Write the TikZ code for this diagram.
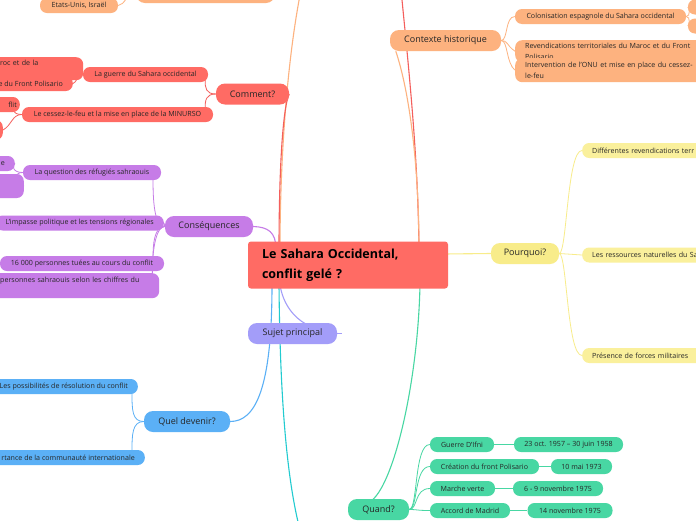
\documentclass[tikz,border=0pt]{standalone}
\usepackage{fontspec}
\setmainfont{Open Sans}
\usetikzlibrary{backgrounds,calc}
\definecolor{cred}{HTML}{FF6B64}
\definecolor{credl}{HTML}{F45F5C}
\definecolor{cor}{HTML}{FDB27F}
\definecolor{cpu}{HTML}{C67CE7}
\definecolor{cye}{HTML}{F8EC8A}
\definecolor{cyl}{HTML}{FAF09C}
\definecolor{cbl}{HTML}{5BB0F6}
\definecolor{cgr}{HTML}{48D7A3}
\definecolor{cla}{HTML}{A39DF9}
\definecolor{ccy}{HTML}{22CBD0}
\definecolor{ctext}{HTML}{262626}
\begin{document}
\begin{tikzpicture}[x=1pt,y=-1pt,
  mainbox/.style={rounded corners=9pt, minimum height=21pt, inner xsep=0pt, inner ysep=0pt, text=ctext, font=\fontsize{9}{11}\selectfont},
  subbox/.style={rounded corners=7pt, minimum height=15pt, inner xsep=0pt, inner ysep=0pt, text=ctext, font=\fontsize{7.1}{11}\selectfont},
  padbox/.style={subbox, inner xsep=10pt},
  mainline/.style={line width=1.1pt},
  subline/.style={line width=0.8pt}]
\useasboundingbox (0,0) rectangle (696,520);

% central
\node[fill=cred, rounded corners=3pt, minimum width=200pt, minimum height=47pt, text width=172pt, inner xsep=14pt, align=left, text=black, font=\bfseries\fontsize{12.5}{20}\selectfont] (c) at (348,265) {Le Sahara Occidental,\\conflit gelé ?};

% Contexte historique
\node[mainbox, fill=cor, minimum width=111pt] (ctx) at (445.5,40.5) {Contexte historique};
\node[subbox, fill=cor, minimum width=171pt] (col) at (600.5,16.5) {Colonisation espagnole du Sahara occidental};
\node[subbox, fill=cor, minimum width=80pt] (col1) at (728,7) {};
\node[subbox, fill=cor, minimum width=80pt] (col2) at (728,26) {};
\node[padbox, fill=cor, anchor=north west, text width=190pt, align=left, minimum height=22pt, inner ysep=2pt] (rev) at (515,40) {Revendications territoriales du Maroc et du Front\\Polisario};
\node[padbox, fill=cor, anchor=north west, text width=190pt, align=left, minimum height=24pt, inner ysep=2pt] (int) at (515,58) {Intervention de l’ONU et mise en place du cessez-\\le-feu};

% top-left orange
\node[subbox, fill=cor, minimum width=78pt] (eu) at (79,5.5) {Etats-Unis, Israël};
\node[mainbox, fill=cor, minimum width=139pt, minimum height=22pt] (tb) at (205.5,-8) {};

% Comment?
\node[mainbox, fill=cred, minimum width=73pt] (cm) at (252.5,94) {Comment?};
\node[subbox, fill=cred, minimum width=125pt] (gu) at (145.5,74.5) {La guerre du Sahara occidental};
\node[padbox, fill=cred, anchor=north west, text width=73pt, align=left, minimum height=23pt, inner ysep=2pt] (gc1) at (-10,57) {roc et de la\\\mbox{}};
\node[padbox, fill=cred, anchor=east] (gc2) at (73,83.5) {e du Front Polisario};
\node[subbox, fill=cred, minimum width=191pt] (cs) at (117.5,114.5) {Le cessez-le-feu et la mise en place de la MINURSO};
\node[subbox, fill=cred, anchor=east, inner xsep=3pt] (cc1) at (20,104.5) {\mbox{}\hspace{20pt}flit};
\node[subbox, fill=cred, anchor=east, minimum width=40pt, minimum height=20pt] (cc2) at (3,130) {};

% Consequences
\node[mainbox, fill=cpu, minimum width=88pt] (cq) at (209,226.5) {Conséquences};
\node[subbox, fill=cpu, minimum width=138pt] (rf) at (92,172.5) {La question des réfugiés sahraouis};
\node[padbox, fill=cpu, anchor=east] (rc1) at (15,163.5) {e};
\node[subbox, fill=cpu, anchor=east, minimum width=60pt, minimum height=24pt] (rc2) at (24,186) {};
\node[padbox, fill=cpu, anchor=east] (im) at (164,223) {L’impasse politique et les tensions régionales};
\node[subbox, fill=cpu, minimum width=164pt] (tu) at (82,263.5) {16 000 personnes tuées au cours du conflit};
\node[padbox, fill=cpu, anchor=north west, text width=149pt, align=left, minimum height=25pt, inner ysep=2pt] (ch) at (-10,273) {\mbox{personnes sahraouis selon les chiffres du}\\\mbox{}};

% Pourquoi?
\node[mainbox, fill=cye, minimum width=68pt] (pq) at (525,253.5) {Pourquoi?};
\node[padbox, fill=cyl, anchor=west, text width=150pt, align=left] (dif) at (582,150.5) {Différentes revendications terr};
\node[padbox, fill=cyl, anchor=west, text width=150pt, align=left] (res) at (582,255) {Les ressources naturelles du Sa};
\node[padbox, fill=cyl, anchor=west, text width=150pt, align=left] (frc) at (582,355.5) {Présence de forces militaires};

% Sujet principal
\node[mainbox, fill=cla, minimum width=89pt] (sp) at (292.5,333.5) {Sujet principal};

% Quel devenir?
\node[mainbox, fill=cbl, minimum width=86pt] (qd) at (187,421.5) {Quel devenir?};
\node[padbox, fill=cbl, anchor=east] (po) at (138,386.5) {Les possibilités de résolution du conflit};
\node[padbox, fill=cbl, anchor=east] (co) at (145,457.5) {rtance de la communauté internationale};

% Quand?
\node[mainbox, fill=cgr, minimum width=61pt] (qu) at (378.5,509.5) {Quand?};
\node[subbox, fill=cgr, minimum width=64pt] (gi) at (462,444.5) {Guerre D’Ifni};
\node[subbox, fill=cgr, minimum width=109pt] (d1) at (568.5,444.5) {23 oct. 1957 – 30 juin 1958};
\node[subbox, fill=cgr, minimum width=109pt] (cf) at (484.5,466.5) {Création du front Polisario};
\node[subbox, fill=cgr, minimum width=61pt] (d2) at (581.5,466.5) {10 mai 1973};
\node[subbox, fill=cgr, minimum width=65pt] (mv) at (462.5,488.5) {Marche verte};
\node[subbox, fill=cgr, minimum width=90pt] (d3) at (558,488.5) {6 - 9 novembre 1975};
\node[subbox, fill=cgr, minimum width=80pt] (am) at (470,510.5) {Accord de Madrid};
\node[subbox, fill=cgr, minimum width=85pt] (d4) at (570,510.5) {14 novembre 1975};

% free ends of connectors
\coordinate (topOr) at (301,-10);
\coordinate (topRed) at (401,-10);
\coordinate (botCy) at (300,530);

\begin{pgfonlayer}{background}
\fill[white] (0,0) rectangle (696,520);
% main connectors
\draw[mainline, credl] (topRed) .. controls (410,80) and (418,160) .. ($(c.north)+(71,8)$);
\draw[mainline, cor] (ctx.south west) ++(6,0) .. controls (412,100) and (419,180) .. ($(c.north)+(71,8)$);
\draw[mainline, cor] (topOr) .. controls (287,60) and (280,160) .. ($(c.north)+(-68,8)$);
\draw[mainline, credl] (cm.east) .. controls (282,110) and (279,180) .. ($(c.north)+(-69,8)$);
\draw[mainline, cpu] (cq.east) .. controls (268,227) and (276,232) .. ($(c.north)+(-72,8)$);
\draw[mainline, cla] ($(c.south)+(-68,-4)$) .. controls (283,305) and (295,318) .. ($(sp.north)+(13,1)$);
\draw[mainline, cbl] ($(c.south)+(-76,-4)$) .. controls (272,390) and (255,421.5) .. (qd.east);
\draw[mainline, ccy] ($(c.south)+(-69,-4)$) .. controls (280,400) and (287,480) .. (botCy);
\draw[mainline, cgr] ($(qu.north)+(-6,1)$) .. controls (395,480) and (418,380) .. ($(c.south)+(72,-4)$);
\draw[mainline, cye] ($(c.east)+(-4,-11)$) -- (pq.west);
\draw[mainline, cla] (sp.east) -- ++(5,0);
% Contexte
\draw[subline, cor] (ctx.east) .. controls (508,40.5) and (505,16.5) .. (col.west);
\draw[subline, cor] (ctx.east) .. controls (508,40.5) and (506,45) .. (rev.west);
\draw[subline, cor] (ctx.east) .. controls (508,40.5) and (506,63) .. (int.west);
\draw[subline, cor] (col.east) .. controls (691,16.5) and (689,7) .. (col1.west);
\draw[subline, cor] (col.east) .. controls (691,16.5) and (689,26) .. (col2.west);
\draw[subline, cor] (eu.east) .. controls (125,5) and (126,-6) .. (tb.west);
% Comment
\draw[subline, credl] (cm.west) .. controls (206,94) and (205,88) .. ($(gu.south east)+(-3,-2)$);
\draw[subline, credl] (cm.west) .. controls (206,94) and (205,100) .. ($(cs.north east)+(-8,2)$);
\draw[subline, credl] (gu.west) .. controls (78,74.5) and (78,70) .. ($(gc1.east)+(-4,0)$);
\draw[subline, credl] (gu.west) .. controls (78,74.5) and (76,83) .. (gc2.east);
\draw[subline, credl] (cs.west) .. controls (12,114.5) and (12,108) .. ($(cc1.east)+(-8,0)$);
\draw[subline, credl] (cs.west) .. controls (12,114.5) and (12,125) .. (cc2.east);
% Consequences
\draw[subline, cpu] (cq.west) .. controls (154,226.5) and (153,200) .. ($(rf.south)+(61,-2)$);
\draw[subline, cpu] (cq.west) -- (im.east);
\draw[subline, cpu] (cq.west) .. controls (154,226.5) and (153,245) .. ($(tu.north)+(71,2)$);
\draw[subline, cpu] (cq.west) .. controls (155,226.5) and (152,255) .. ($(ch.north east)+(-7,2)$);
\draw[subline, cpu] (rf.west) .. controls (12,172.5) and (12,165) .. (rc1.east);
\draw[subline, cpu] (rf.west) .. controls (14,172.5) and (14,180) .. (rc2.east);
% Pourquoi
\draw[subline, cye] (pq.east) .. controls (567,253.5) and (567,150.5) .. (dif.west);
\draw[subline, cye] (pq.east) -- (res.west);
\draw[subline, cye] (pq.east) .. controls (567,253.5) and (567,355.5) .. (frc.west);
% Quel devenir
\draw[subline, cbl] (qd.west) .. controls (132,421.5) and (132,410) .. ($(po.south east)+(-6,-2)$);
\draw[subline, cbl] (qd.west) .. controls (132,421.5) and (132,435) .. ($(co.north east)+(-13,2)$);
% Quand
\draw[subline, cgr] (qu.east) .. controls (418,509.5) and (414,444.5) .. (gi.west);
\draw[subline, cgr] (qu.east) .. controls (418,509.5) and (414,466.5) .. (cf.west);
\draw[subline, cgr] (qu.east) .. controls (418,509.5) and (414,488.5) .. (mv.west);
\draw[subline, cgr] (qu.east) .. controls (418,509.5) and (416,510.5) .. (am.west);
\draw[subline, cgr] (gi.east) -- (d1.west);
\draw[subline, cgr] (cf.east) -- (d2.west);
\draw[subline, cgr] (mv.east) -- (d3.west);
\draw[subline, cgr] (am.east) -- (d4.west);
\end{pgfonlayer}
\end{tikzpicture}
\end{document}
